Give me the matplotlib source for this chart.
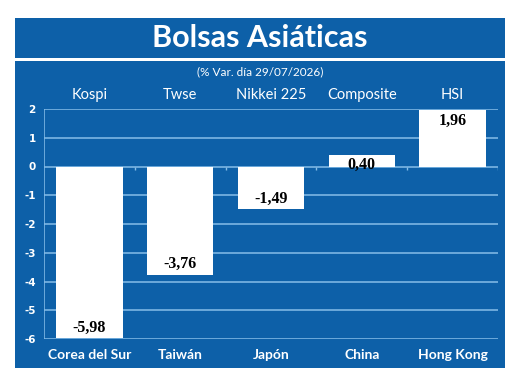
import matplotlib
matplotlib.use("Agg")
import matplotlib.pyplot as plt
from matplotlib.patches import Rectangle

# data
indices = ["Kospi", "Twse", "Nikkei 225", "Composite", "HSI"]
countries = ["Corea del Sur", "Taiwán", "Japón", "China", "Hong Kong"]
values = [-5.98, -3.76, -1.49, 0.40, 1.96]
yticks = [2, 1, 0, -1, -2, -3, -4, -5, -6]

blue = "#0d60a8"
grid_blue = "#86bde8"

W, H = 520, 384
fig = plt.figure(figsize=(W / 100, H / 100), dpi=100, facecolor="white")

def px(x0, y0, x1, y1):
    # pixel box (top-left origin) -> figure fraction rect
    return (x0 / W, 1 - y1 / H, (x1 - x0) / W, (y1 - y0) / H)

# title box and panel
x, y, w, h = px(15, 18, 505, 58)
fig.patches.append(Rectangle((x, y), w, h, transform=fig.transFigure, facecolor=blue, edgecolor="none", zorder=-5))
x, y, w, h = px(15, 61, 505, 368)
fig.patches.append(Rectangle((x, y), w, h, transform=fig.transFigure, facecolor=blue, edgecolor="none", zorder=-5))

fig.text(0.5, 1 - 38 / H, "Bolsas Asiáticas", color="white", fontsize=22, fontweight="bold",
         family="Lato", ha="center", va="center")
fig.text(0.5, 1 - 72 / H, "(% Var. día 29/07/2026)", color="white", fontsize=8.5,
         family="Lato", ha="center", va="center")

ax = fig.add_axes(px(44, 109, 498, 339))
ax.set_zorder(2)
ax.set_facecolor("none")
ax.set_xlim(-0.5, 4.5)
ax.set_ylim(-6, 2)

pos = list(range(len(values)))
for t in yticks:
    ax.axhline(t, color=grid_blue, lw=1.1, zorder=1)
ax.axvline(-0.5, color=grid_blue, lw=1.1, zorder=1)
ax.vlines([p + 0.5 for p in pos[:-1]] + [4.5], 0, -0.12, color=grid_blue, lw=1, zorder=1)

ax.bar(pos, values, width=0.73, color="white", zorder=2)

for p, v in zip(pos, values):
    if v < 0:
        ax.text(p, v + 0.08, f"{v:.2f}".replace(".", ","), ha="center", va="bottom",
                fontsize=11.5, fontweight="bold", family="Liberation Serif", color="black", zorder=3)
    else:
        ax.text(p, v - 0.08, f"{v:.2f}".replace(".", ","), ha="center", va="top",
                fontsize=11.5, fontweight="bold", family="Liberation Serif", color="black", zorder=3)

for p, name in zip(pos, indices):
    ax.text(p, 1 + 14 / 230, name, transform=ax.get_xaxis_transform(), ha="center", va="center",
            color="white", fontsize=10.5, family="Lato")

ax.set_xticks(pos)
ax.set_xticklabels(countries, color="white", fontsize=10, fontweight="bold", family="Lato")
ax.set_yticks(yticks)
ax.set_yticklabels([str(t) for t in yticks], color="white", fontsize=7.5, fontweight="bold")
ax.tick_params(length=0)
ax.tick_params(axis="x", pad=7)
ax.tick_params(axis="y", pad=6)
for s in ax.spines.values():
    s.set_visible(False)

fig.savefig("out.png", dpi=100, facecolor="white")
